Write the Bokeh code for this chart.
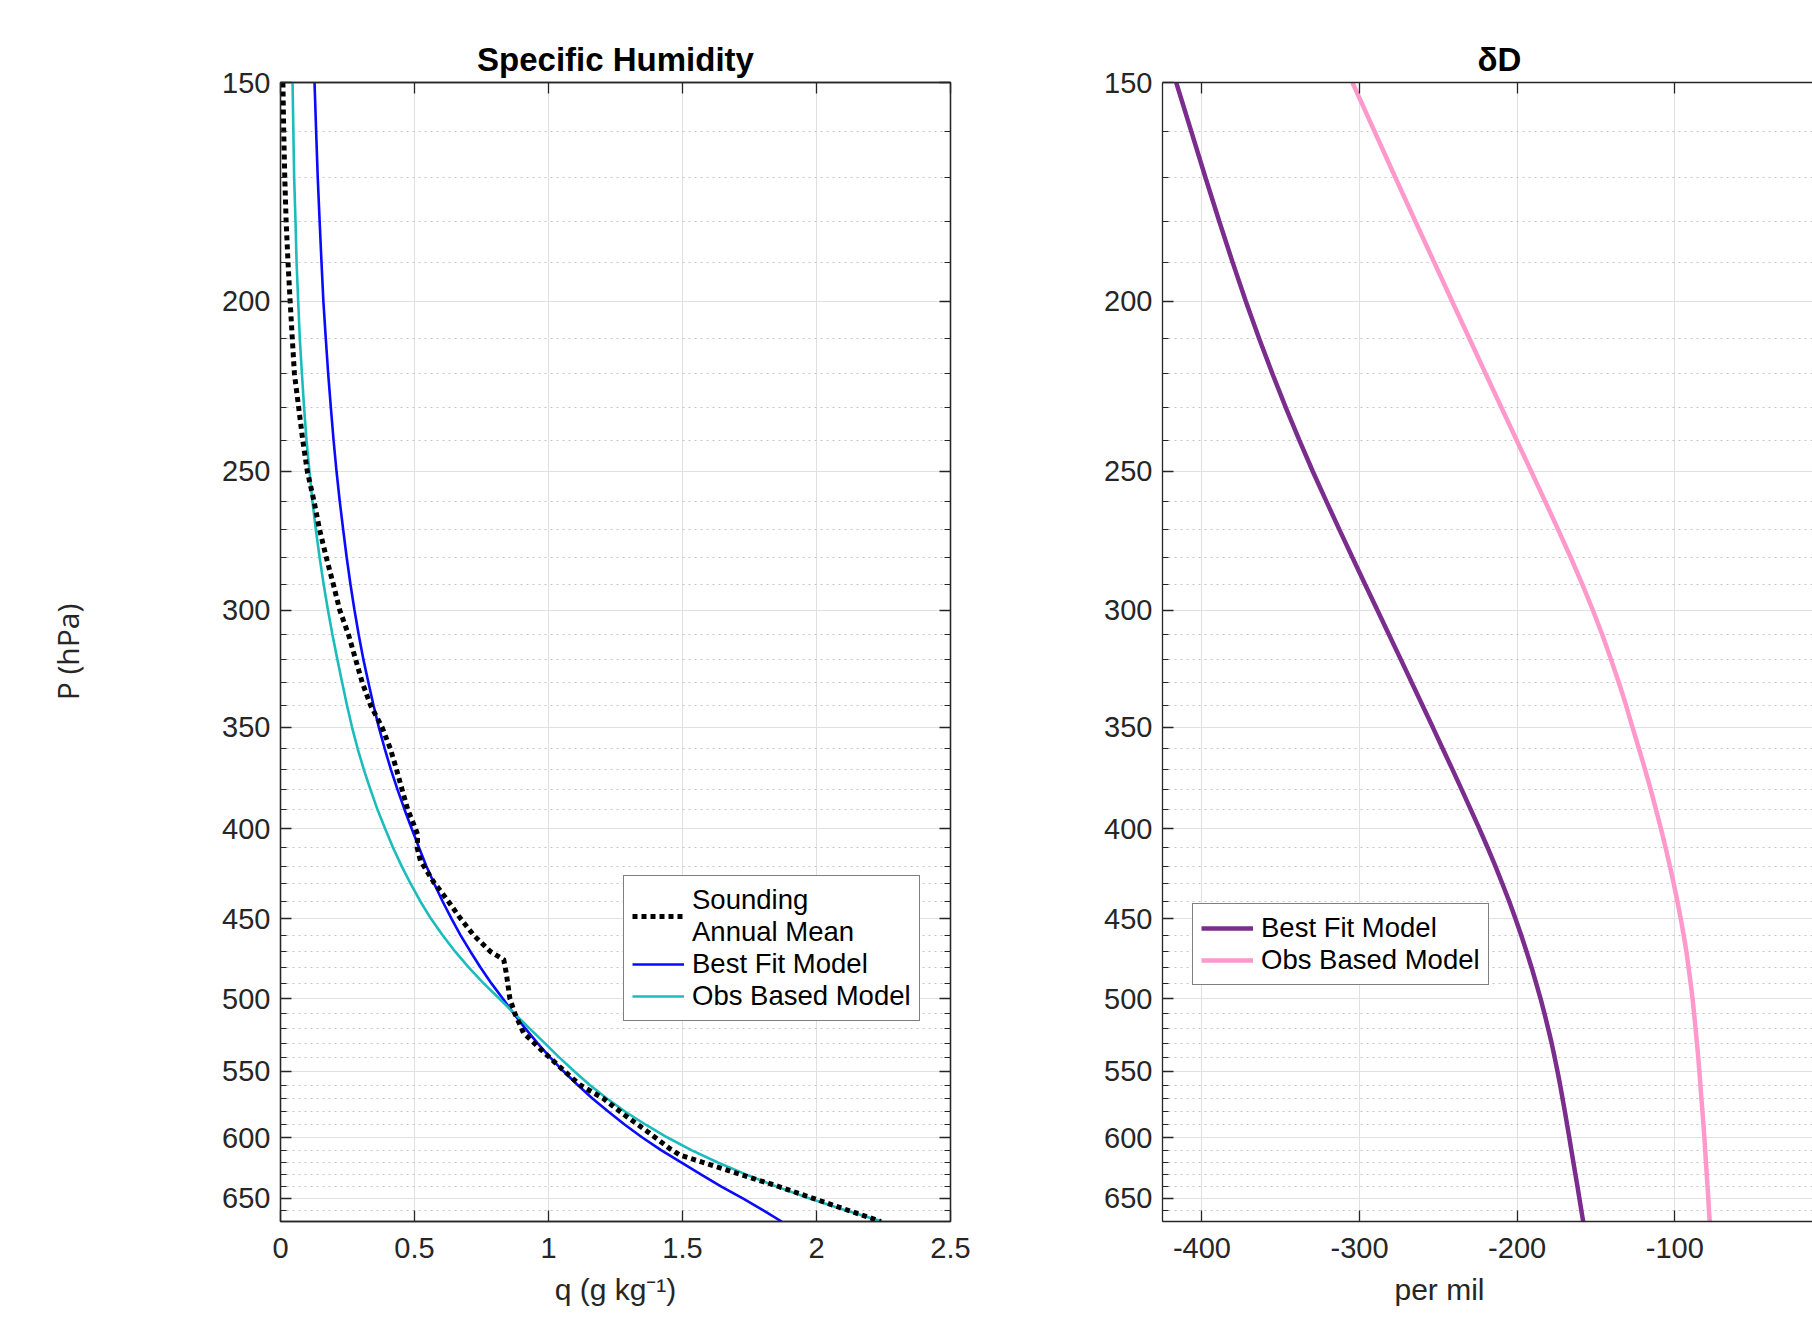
from bokeh.plotting import figure
from bokeh.models import (Range1d, FixedTicker, LinearAxis, LogAxis, Legend, LegendItem,
                          NumeralTickFormatter, CustomJSTickFormatter, Title)
from bokeh.layouts import row
from bokeh.embed import file_html
from bokeh.resources import INLINE

# ---------------- data ----------------
# Specific humidity panel (pressure in hPa, q in g/kg), read every 10 hPa
p_model = [150, 160, 170, 180, 190, 200, 210, 220, 230, 240, 250, 260, 270, 280, 290, 300, 310,
           320, 330, 340, 350, 360, 370, 380, 390, 400, 410, 420, 430, 440, 450, 460, 470, 480,
           490, 500, 510, 520, 530, 540, 550, 560, 570, 580, 590, 600, 610, 620, 630, 640, 650,
           660, 670]
q_best = [0.127, 0.133, 0.139, 0.146, 0.153, 0.160, 0.169, 0.178, 0.188, 0.198, 0.209, 0.221,
          0.234, 0.247, 0.261, 0.276, 0.292, 0.309, 0.328, 0.347, 0.367, 0.389, 0.412, 0.437,
          0.463, 0.490, 0.517, 0.544, 0.574, 0.605, 0.638, 0.672, 0.709, 0.747, 0.787, 0.830,
          0.871, 0.914, 0.959, 1.006, 1.056, 1.109, 1.164, 1.224, 1.285, 1.350, 1.420, 1.495,
          1.570, 1.645, 1.725, 1.800, 1.870]
q_obs = [0.045, 0.048, 0.051, 0.056, 0.060, 0.066, 0.072, 0.080, 0.088, 0.097, 0.108, 0.119,
         0.132, 0.146, 0.161, 0.177, 0.194, 0.212, 0.230, 0.248, 0.267, 0.288, 0.311, 0.336,
         0.362, 0.391, 0.420, 0.452, 0.486, 0.522, 0.561, 0.605, 0.652, 0.703, 0.758, 0.817,
         0.874, 0.930, 0.986, 1.040, 1.096, 1.154, 1.218, 1.287, 1.363, 1.444, 1.533, 1.632,
         1.738, 1.852, 1.975, 2.105, 2.245]

p_sounding = [150, 160, 170, 180, 190, 200, 210, 220, 230, 240, 250, 260, 270, 280, 290, 300,
              310, 320, 330, 340, 350, 360, 370, 380, 390, 400, 403, 410, 417, 429, 439, 450,
              460, 470, 475, 484, 500, 510, 523, 534, 550, 560, 570, 582, 595, 609, 614, 640, 670]
q_sounding = [0.009, 0.012, 0.016, 0.021, 0.028, 0.036, 0.044, 0.052, 0.068, 0.083, 0.100, 0.125,
              0.146, 0.171, 0.197, 0.221, 0.254, 0.280, 0.305, 0.336, 0.379, 0.410, 0.433, 0.454,
              0.475, 0.504, 0.512, 0.510, 0.522, 0.572, 0.622, 0.672, 0.721, 0.784, 0.833, 0.843,
              0.856, 0.875, 0.907, 0.969, 1.060, 1.118, 1.205, 1.280, 1.367, 1.454, 1.490, 1.860, 2.240]

# deltaD panel (per mil), read every 10 hPa
p_dd = [150, 160, 170, 180, 190, 200, 210, 220, 230, 240, 250, 260, 270, 280, 290, 300, 310,
        320, 330, 340, 350, 360, 370, 380, 390, 400, 410, 420, 430, 440, 450, 460, 470, 480,
        490, 500, 510, 520, 530, 540, 550, 560, 570, 580, 590, 600, 610, 620, 630, 640, 650,
        660, 670]
dd_best = [-416.3, -406.7, -397.7, -389.0, -380.5, -372.1, -363.7, -355.2, -346.7, -338.2, -329.7,
           -321.1, -312.7, -304.5, -296.5, -288.7, -281.2, -273.9, -266.9, -260.1, -253.5, -247.2,
           -241.0, -235.1, -229.4, -223.9, -218.7, -213.8, -209.3, -205.0, -201.1, -197.4, -194.0,
           -190.8, -187.9, -185.1, -182.6, -180.3, -178.1, -176.2, -174.4, -172.7, -171.2, -169.7,
           -168.3, -166.9, -165.6, -164.3, -163.0, -161.7, -160.5, -159.3, -158.1]
dd_obs = [-304.5, -290.4, -277.2, -264.6, -252.6, -241.2, -230.3, -219.9, -209.9, -200.3, -191.1,
          -182.3, -173.9, -166.0, -158.7, -152.0, -145.9, -140.5, -135.5, -130.9, -126.8, -122.7,
          -118.8, -115.2, -111.9, -108.7, -105.8, -103.1, -100.6, -98.3, -96.2, -94.3, -92.6,
          -91.2, -89.9, -88.7, -87.7, -86.8, -85.9, -85.1, -84.4, -83.7, -83.1, -82.4, -81.8,
          -81.2, -80.7, -80.2, -79.7, -79.2, -78.7, -78.3, -77.8]

y_major = [150, 200, 250, 300, 350, 400, 450, 500, 550, 600, 650]
y_minor = [v for v in range(160, 671, 10) if v % 50]
q_ticks = [0, 0.5, 1, 1.5, 2, 2.5]
dd_ticks = [-400, -300, -200, -100]

# ---------------- styling helpers ----------------
TXT = "#262626"
FONT = "Liberation Sans"
AX = "#262626"
BLANK = CustomJSTickFormatter(code="return ''")


def style_axis(ax, show_labels=True, minor=True):
    ax.axis_line_color = AX
    ax.axis_line_width = 1.3
    ax.major_tick_line_color = AX
    ax.minor_tick_line_color = AX
    ax.major_tick_line_width = 1.3
    ax.minor_tick_line_width = 1.0
    ax.major_tick_in = 11
    ax.major_tick_out = 0
    ax.minor_tick_in = 6 if minor else 0
    ax.minor_tick_out = 0
    ax.major_label_text_font = FONT
    ax.major_label_text_color = TXT
    ax.major_label_text_font_size = "29px"
    if not show_labels:
        ax.formatter = BLANK
        ax.major_label_standoff = 0


def make_fig(width, xr, mb_left, mb_right, outline, title, align, offset):
    f = figure(width=width, height=1318, x_range=xr, y_range=Range1d(670, 150),
               y_axis_type="log", output_backend="svg", toolbar_location=None,
               min_border_left=mb_left, min_border_right=mb_right,
               min_border_top=82, min_border_bottom=97)
    f.title.text = title
    f.title.align = align
    f.title.offset = offset
    f.title.text_font = FONT
    f.title.text_font_size = "33px"
    f.title.text_font_style = "bold"
    f.title.text_color = "black"
    f.title.standoff = 9
    f.outline_line_color = AX if outline else None
    f.outline_line_width = 1.3
    f.background_fill_color = "white"
    f.border_fill_color = "white"
    return f


def style_grid(f, xt, yt):
    for g, tk in ((f.xgrid, xt), (f.ygrid, yt)):
        g.ticker = tk
        g.grid_line_color = "#e0e0e0"
        g.grid_line_width = 1
    f.ygrid.minor_grid_line_color = "#c4c4c4"
    f.ygrid.minor_grid_line_dash = "2 4"
    f.ygrid.minor_grid_line_width = 1


def add_xlabel(f, text, align, offset):
    f.add_layout(Title(text=text, align=align, offset=offset, text_font=FONT,
                       text_font_size="30px", text_font_style="normal", text_color=TXT,
                       standoff=21), "below")


yt = FixedTicker(ticks=y_major, minor_ticks=y_minor)
yfmt = NumeralTickFormatter(format="0")

# ---------------- left panel ----------------
xt1 = FixedTicker(ticks=q_ticks)
p1 = make_fig(1050, Range1d(0, 2.5), 280, 100, True, "Specific Humidity", "center", 0)
p1.yaxis.ticker = yt
p1.yaxis.formatter = yfmt
p1.xaxis.ticker = xt1
p1.xaxis.formatter = NumeralTickFormatter(format="0.[0]")
style_axis(p1.yaxis[0])
style_axis(p1.xaxis[0], minor=False)
p1.yaxis.major_label_standoff = 10
p1.xaxis.major_label_standoff = 16
p1.yaxis.axis_label = "P (hPa)"
p1.yaxis.axis_label_text_font = "Open Sans"
p1.yaxis.axis_label_text_font_size = "30px"
p1.yaxis.axis_label_text_font_style = "normal"
p1.yaxis.axis_label_text_color = TXT
p1.yaxis.axis_label_standoff = 131

ax_r = LogAxis(ticker=yt)
style_axis(ax_r, show_labels=False)
p1.add_layout(ax_r, "right")
ax_t = LinearAxis(ticker=xt1)
style_axis(ax_t, show_labels=False, minor=False)
p1.add_layout(ax_t, "above")
style_grid(p1, xt1, yt)
add_xlabel(p1, "q (g kg⁻¹)", "center", 0)

r_best = p1.line(q_best, p_model, line_color="#0a0aff", line_width=2.6)
r_obs = p1.line(q_obs, p_model, line_color="#1cbcbc", line_width=2.6)
r_snd = p1.line(q_sounding, p_sounding, line_color="black", line_width=5,
                line_dash="5 4", line_cap="butt", line_join="miter")

leg1 = Legend(items=[LegendItem(label="Sounding\nAnnual Mean", renderers=[r_snd]),
                     LegendItem(label="Best Fit Model", renderers=[r_best]),
                     LegendItem(label="Obs Based Model", renderers=[r_obs])],
              location=(343, 200))

# ---------------- right panel ----------------
xt2 = FixedTicker(ticks=dd_ticks)
p2 = make_fig(762, Range1d(-425, -12.6), 112, 0, False, "δD", "left", 315)
p2.yaxis.ticker = yt
p2.yaxis.formatter = yfmt
p2.xaxis.ticker = xt2
p2.xaxis.formatter = NumeralTickFormatter(format="0")
style_axis(p2.yaxis[0])
style_axis(p2.xaxis[0], minor=False)
p2.yaxis.major_label_standoff = 10
p2.xaxis.major_label_standoff = 16
ax_t2 = LinearAxis(ticker=xt2)
style_axis(ax_t2, show_labels=False, minor=False)
p2.add_layout(ax_t2, "above")
style_grid(p2, xt2, yt)
add_xlabel(p2, "per mil", "left", 232)

r_dbest = p2.line(dd_best, p_dd, line_color="#7b2d8e", line_width=4.5)
r_dobs = p2.line(dd_obs, p_dd, line_color="#ff99cc", line_width=4.5)

leg2 = Legend(items=[LegendItem(label="Best Fit Model", renderers=[r_dbest]),
                     LegendItem(label="Obs Based Model", renderers=[r_dobs])],
              location=(30, 236))

for lg in (leg1, leg2):
    lg.label_text_font = FONT
    lg.label_text_font_size = "27.5px"
    lg.label_text_color = "black"
    lg.glyph_width = 52
    lg.glyph_height = 30
    lg.label_standoff = 8
    lg.padding = 8
    lg.spacing = 0
    lg.margin = 0
    lg.border_line_color = "black"
    lg.border_line_width = 1
    lg.background_fill_color = "white"
    lg.background_fill_alpha = 1.0
p1.add_layout(leg1)
p2.add_layout(leg2)

layout = row(p1, p2)
open("out.html", "w").write(file_html(layout, INLINE))
